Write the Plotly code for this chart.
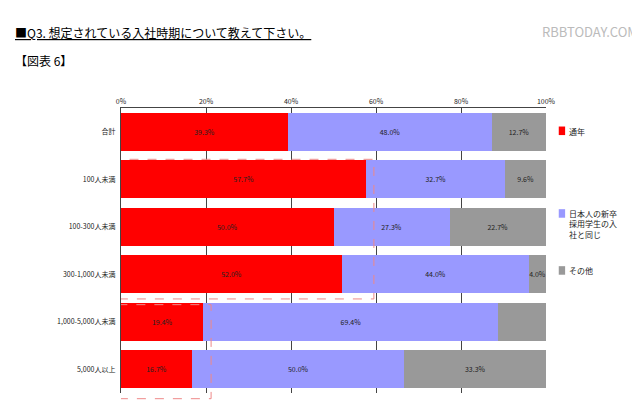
import plotly.graph_objects as go

categories = ["合計", "100人未満", "100-300人未満", "300-1,000人未満", "1,000-5,000人未満", "5,000人以上"]
series_names = ["通年", "日本人の新卒<br>採用学生の入<br>社と同じ", "その他"]
tsuunen = [39.3, 57.7, 50.0, 52.0, 19.4, 16.7]
onaji = [48.0, 32.7, 27.3, 44.0, 69.4, 50.0]
sonota = [12.7, 9.6, 22.7, 4.0, 11.3, 33.3]
tick_vals = [0, 20, 40, 60, 80, 100]
tick_text = ["0%", "20%", "40%", "60%", "80%", "100%"]
colors = ["#FF0000", "#9999FF", "#999999"]

font = "Noto Sans CJK JP"
fig = go.Figure()
for name, vals, c in zip(series_names, [tsuunen, onaji, sonota], colors):
    fig.add_trace(go.Bar(
        y=categories, x=vals, orientation="h", name=name,
        marker=dict(color=c, line=dict(width=0)),
        text=[f"{v:.1f}%" for v in vals], textposition="inside", textangle=0,
        constraintext="none", cliponaxis=False,
        insidetextanchor="middle", textfont=dict(size=7, color="#222"),
        showlegend=False,
    ))

fig.update_layout(
    barmode="stack", bargap=0.2,
    width=640, height=417,
    margin=dict(l=113, r=102, t=100, b=32),
    plot_bgcolor="white", paper_bgcolor="white",
    font=dict(family=font, size=8, color="#222"),
    xaxis=dict(range=[0, 100], tickvals=tick_vals, ticktext=tick_text, side="top",
               showgrid=True, gridcolor="#444", gridwidth=1, zeroline=False,
               showline=True, linecolor="#444", ticks="", tickfont=dict(size=7),
               automargin=False),
    yaxis=dict(autorange="reversed", showline=True, linecolor="#444",
               ticks="", ticksuffix="  ", tickfont=dict(size=7), automargin=False),
)

# dashed highlight boxes
fig.add_shape(type="rect", xref="x", yref="paper", x0=-0.5, x1=59.5, y0=0.33, y1=0.82,
              line=dict(color="#E88", width=1, dash="dash"))
fig.add_shape(type="rect", xref="x", yref="paper", x0=-0.5, x1=21.2, y0=-0.02, y1=0.31,
              line=dict(color="#E88", width=1, dash="dash"))

# legend drawn manually
leg_y = [0.92, 0.63, 0.43]
for name, c, y in zip(series_names, colors, leg_y):
    fig.add_shape(type="rect", xref="paper", yref="paper", x0=1.03, x1=1.045,
                  y0=y - 0.015, y1=y + 0.015, fillcolor=c, line=dict(width=0))
    fig.add_annotation(xref="paper", yref="paper", x=1.05, y=y + 0.025, text=name,
                       showarrow=False, xanchor="left", yanchor="top", align="left",
                       font=dict(size=8))

fig.add_annotation(xref="paper", yref="paper", x=-0.255, y=1.3,
                   text="<u>■Q3. 想定されている入社時期について教えて下さい。</u>",
                   showarrow=False, xanchor="left", font=dict(size=12, color="#000"))
fig.add_annotation(xref="paper", yref="paper", x=-0.255, y=1.205, text="【図表 6】",
                   showarrow=False, xanchor="left", font=dict(size=12, color="#000"))
fig.add_annotation(xref="paper", yref="paper", x=1.22, y=1.31, text="RBBTODAY.COM",
                   showarrow=False, xanchor="right", font=dict(size=13, color="#bbb"))

fig.write_html("out.html")
